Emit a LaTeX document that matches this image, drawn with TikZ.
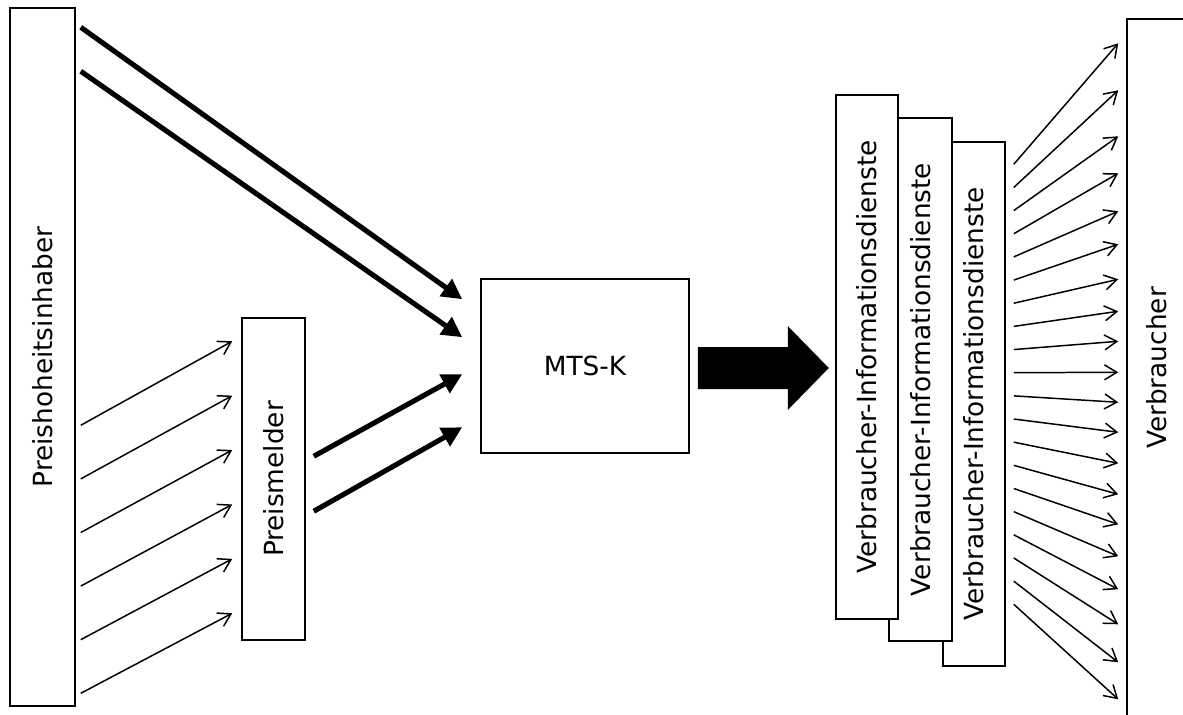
\documentclass[tikz,border=0pt]{standalone}
\usepackage{fontspec}
\setmainfont{DejaVu Sans}
\usepackage{graphicx}
\usetikzlibrary{
	arrows.meta,
	calc,
	positioning
}

\tikzset{
	box/.style={draw, line width=0.9pt, fill=white, inner sep=0pt,
		font=\fontsize{15}{18}\selectfont},
	thickarrow/.style={line width=2.9pt, -{Triangle[length=11.5pt,width=11.5pt]}},
	thinarrow/.style={line width=0.85pt, -{Straight Barb[length=7pt,width=8.5pt]}}
}

\begin{document}
\begin{tikzpicture}[x=0.02cm, y=-0.02cm]
		\useasboundingbox (0,0) rectangle (1183,714);
		
		% Kästen
		\node[box, minimum width=1.3cm, minimum height=13.96cm] (pho) at (42.5,357) {\rotatebox{90}{Preishoheitsinhaber}};
		\node[box, minimum width=1.26cm, minimum height=6.44cm] (pm) at (273.5,479) {\rotatebox{90}{Preismelder}};
		\node[box, minimum width=4.16cm, minimum height=3.48cm] (mtsk) at (585,366) {MTS-K};
		
		\node[box, minimum width=1.24cm, minimum height=10.48cm] (vid3) at (974,404) {\rotatebox{90}{Verbraucher-Informationsdienste}};
		\node[box, minimum width=1.26cm, minimum height=10.46cm] (vid2) at (920.5,379.5) {\rotatebox{90}{Verbraucher-Informationsdienste}};
		\node[box, minimum width=1.24cm, minimum height=10.48cm] (vid1) at (867,357) {\rotatebox{90}{Verbraucher-Informationsdienste}};
		
		\node[box, minimum width=1.2cm, minimum height=13.96cm] (vb) at (1157,368) {\rotatebox{90}{Verbraucher}};
		
		% dicke Pfeile zu MTS-K
		\draw[thickarrow] ($(pho.north east)+(5,20)$) -- ($(mtsk.north west)+(-18,21)$);
		\draw[thickarrow] ($(pho.north east)+(5,64)$) -- ($(mtsk.north west)+(-18,59)$);
		\draw[thickarrow] ($(pm.north east)+(8,139)$) -- ($(mtsk.north west)+(-18,96)$);
		\draw[thickarrow] ($(pm.north east)+(8,194)$) -- ($(mtsk.north west)+(-18,149)$);
		
		% dünne Pfeile zum Preismelder
		\foreach \i in {0,...,5}
			\draw[thinarrow] ($(pho.north east)+(5,{418+53.6*\i})$) -- ($(pm.north west)+(-9,{24+54.4*\i})$);
		
		% Blockpfeil
		\fill ($(mtsk.east)+(8,-19)$) -- ++(90,0) -- ++(0,-21) -- ++(41,42) -- ++(-41,42) -- ++(0,-21) -- ++(-90,0) -- cycle;
		
		% Fächer zu den Verbrauchern
		\foreach \e [count=\i from 0] in {25,72,118,155,193,226,261,293,323,354,384,414,445,476,506,538,571,606,644,681}
			\draw[thinarrow] ($(vid3.north east)+(8,{23+23.16*\i})$) -- ($(vb.north west)+(-8,\e)$);
	\end{tikzpicture}
\end{document}
